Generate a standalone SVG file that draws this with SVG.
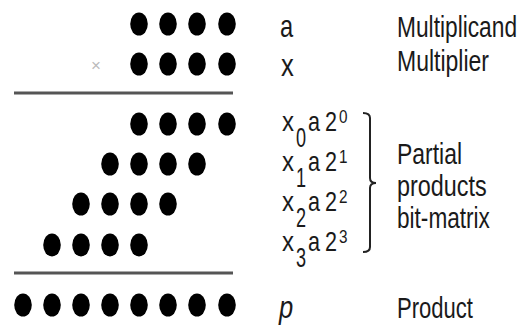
<svg xmlns="http://www.w3.org/2000/svg" width="527" height="326" viewBox="0 0 527 326">
<defs>
<style>
.d{fill:#000}
.rule{stroke:#555;stroke-width:3}
.t{font-family:"Liberation Sans",Arial,sans-serif;font-size:30px;fill:#1a1a1a}
.v{font-family:"Liberation Sans",Arial,sans-serif;font-size:32px;fill:#1a1a1a}
.m{font-family:"Liberation Sans",Arial,sans-serif;font-size:27px;fill:#1a1a1a}
.sp{font-size:18px}
.brace{fill:none;stroke:#222;stroke-width:2}
</style>
<ellipse id="dot" cx="0" cy="0" rx="8.8" ry="11.5"/>
</defs>
<rect width="527" height="326" fill="#fff"/>

<g id="multiplicand" class="d">
<use href="#dot" x="139" y="24"/><use href="#dot" x="168" y="24"/><use href="#dot" x="197" y="24"/><use href="#dot" x="227" y="24"/>
</g>
<g id="multiplier" class="d">
<use href="#dot" x="139" y="64"/><use href="#dot" x="168" y="64"/><use href="#dot" x="197" y="64"/><use href="#dot" x="227" y="64"/>
<text x="96" y="71" font-family="Liberation Sans, sans-serif" font-size="17" fill="#bbb" text-anchor="middle">×</text>
</g>
<line class="rule" x1="14" y1="93" x2="233" y2="93"/>
<g id="partial-products" class="d">
<use href="#dot" x="139" y="124"/><use href="#dot" x="168" y="124"/><use href="#dot" x="197" y="124"/><use href="#dot" x="227" y="124"/>
<use href="#dot" x="110" y="164"/><use href="#dot" x="139" y="164"/><use href="#dot" x="168" y="164"/><use href="#dot" x="197" y="164"/>
<use href="#dot" x="81" y="204"/><use href="#dot" x="110" y="204"/><use href="#dot" x="139" y="204"/><use href="#dot" x="168" y="204"/>
<use href="#dot" x="52" y="245"/><use href="#dot" x="81" y="245"/><use href="#dot" x="110" y="245"/><use href="#dot" x="139" y="245"/>
</g>
<line class="rule" x1="14" y1="273" x2="233" y2="273"/>
<g id="product" class="d">
<use href="#dot" x="23" y="305"/><use href="#dot" x="52" y="305"/><use href="#dot" x="81" y="305"/><use href="#dot" x="110" y="305"/>
<use href="#dot" x="139" y="305"/><use href="#dot" x="168" y="305"/><use href="#dot" x="197" y="305"/><use href="#dot" x="227" y="305"/>
</g>

<g id="labels">
<text class="v" transform="translate(280,37) scale(0.74,1)">a</text>
<text class="t" transform="translate(397,37) scale(0.758,1)">Multiplicand</text>
<text class="v" transform="translate(281,76) scale(0.8,1)">x</text>
<text class="t" transform="translate(397,71) scale(0.767,1)">Multiplier</text>
<text class="v" font-style="italic" transform="translate(279,318) scale(0.8,1)">p</text>
<text class="t" transform="translate(397,318) scale(0.735,1)">Product</text>
</g>

<g id="terms" class="m">
<text transform="translate(282,131) scale(0.89,1)">x</text><text transform="translate(296,147) scale(0.67,1)">0</text><text transform="translate(308,131) scale(0.8,1)">a</text><text transform="translate(325,131) scale(0.8,1)">2</text><text class="sp" transform="translate(339,123) scale(0.85,1)">0</text>
<text transform="translate(282,171) scale(0.89,1)">x</text><text transform="translate(296,187) scale(0.67,1)">1</text><text transform="translate(308,171) scale(0.8,1)">a</text><text transform="translate(325,171) scale(0.8,1)">2</text><text class="sp" transform="translate(339,163) scale(0.85,1)">1</text>
<text transform="translate(282,211) scale(0.89,1)">x</text><text transform="translate(296,227) scale(0.67,1)">2</text><text transform="translate(308,211) scale(0.8,1)">a</text><text transform="translate(325,211) scale(0.8,1)">2</text><text class="sp" transform="translate(339,203) scale(0.85,1)">2</text>
<text transform="translate(282,251) scale(0.89,1)">x</text><text transform="translate(296,267) scale(0.67,1)">3</text><text transform="translate(308,251) scale(0.8,1)">a</text><text transform="translate(325,251) scale(0.8,1)">2</text><text class="sp" transform="translate(339,243) scale(0.85,1)">3</text>
</g>

<g id="brace">
<path class="brace" d="M363,113 Q370,113 370,118 L370,178 Q370,183 376,183 Q370,183 370,188 L370,247 Q370,252 363,252"/>
</g>

<g id="partial-label">
<text class="t" transform="translate(397,164) scale(0.765,1)">Partial</text>
<text class="t" transform="translate(397,196) scale(0.78,1)">products</text>
<text class="t" transform="translate(397,228) scale(0.754,1)">bit-matrix</text>
</g>
</svg>
